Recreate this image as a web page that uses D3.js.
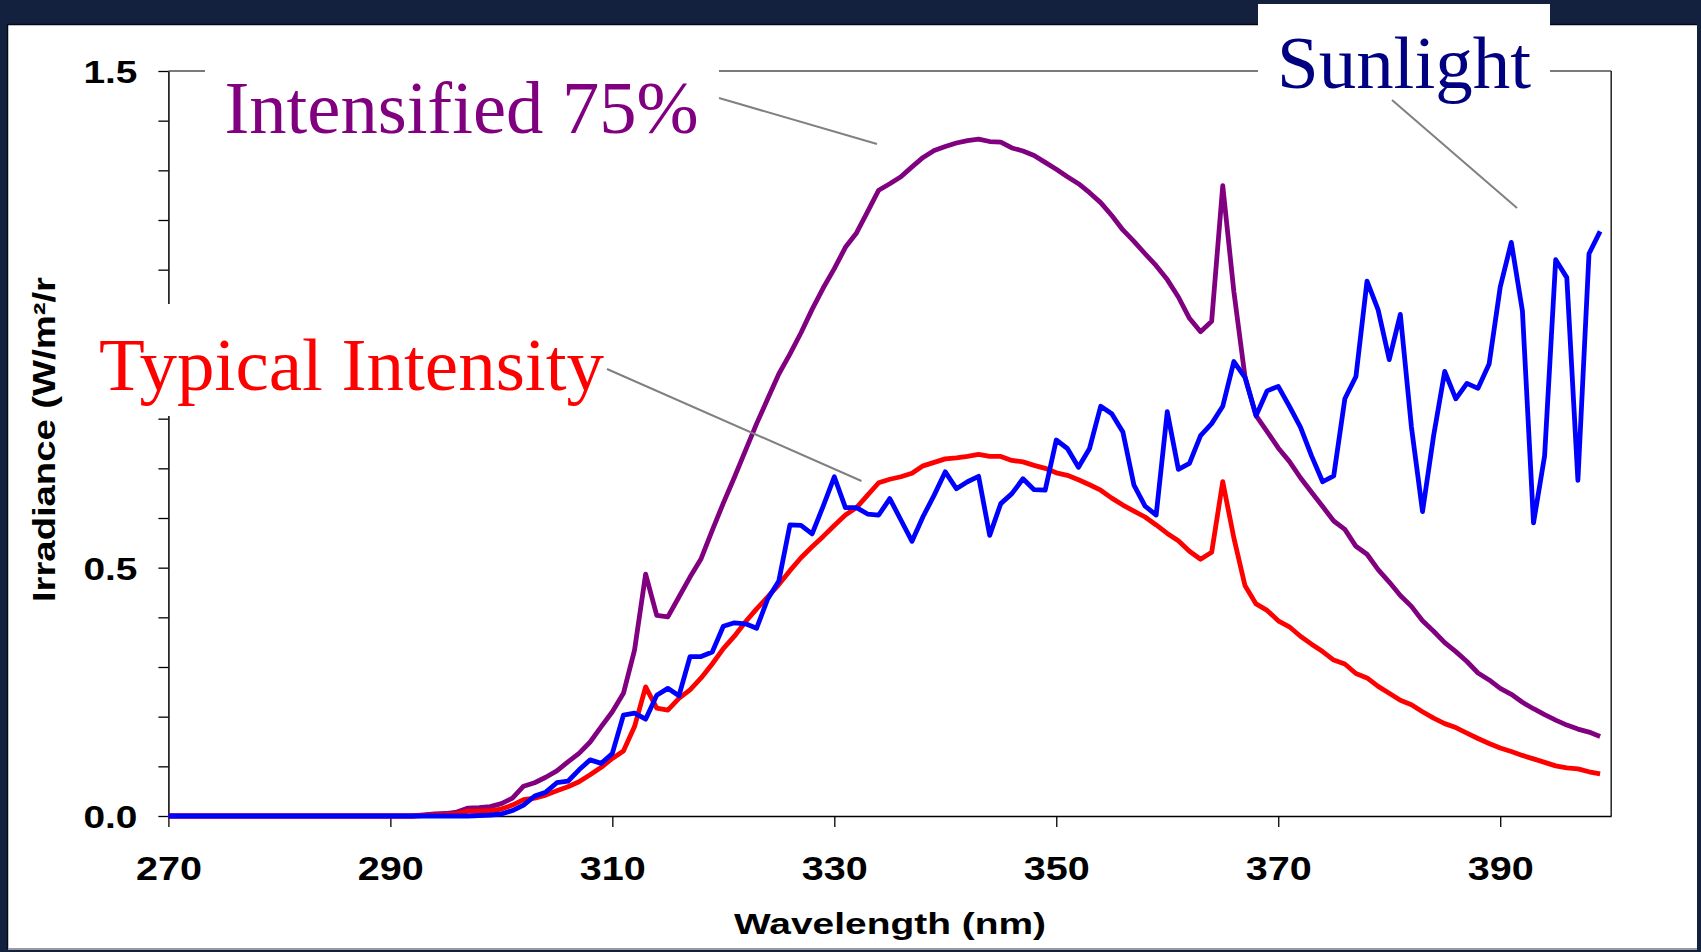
<!DOCTYPE html>
<html><head><meta charset="utf-8">
<script src="https://cdn.jsdelivr.net/npm/d3@7"></script>
<style>html,body{margin:0;padding:0;background:#13213f;overflow:hidden}</style>
</head><body>
<svg id="chart" width="1701" height="952"></svg>
<script>
// ---------- data ----------
const wavelengths = d3.range(270, 400); // 270 ... 399 nm, 1 nm steps
const intensified = [
  0,0,0,0,0,0,0,0,0,0, 0,0,0,0,0,0,0,0,0,0, 0,0,0,
  0.002,0.004,0.005,0.008,0.016,0.017,0.019,0.025,0.036,0.060,
  0.067,0.078,0.091,0.109,0.126,0.149,0.180,0.210,0.247,0.334,
  0.487,0.404,0.401,0.441,0.481,0.518,0.575,0.630,0.682,0.736,
  0.790,0.840,0.890,0.930,0.973,1.020,1.063,1.102,1.145,1.174,
  1.217,1.260,1.273,1.287,1.307,1.326,1.340,1.348,1.355,1.360,
  1.363,1.358,1.357,1.345,1.339,1.330,1.316,1.302,1.287,1.273,
  1.255,1.235,1.209,1.180,1.157,1.132,1.108,1.080,1.045,1.002,
  0.975,0.996,1.269,1.056,0.885,0.806,0.774,0.741,0.714,0.681,
  0.652,0.623,0.594,0.577,0.543,0.527,0.496,0.471,0.444,0.422,
  0.393,0.372,0.349,0.331,0.311,0.288,0.274,0.257,0.245,0.229,
  0.216,0.204,0.193,0.183,0.175,0.169,0.160
];
const typical = [
  0,0,0,0,0,0,0,0,0,0, 0,0,0,0,0,0,0,0,0,0, 0,0,0,
  0.001,0.002,0.003,0.005,0.010,0.010,0.011,0.014,0.022,0.033,
  0.036,0.042,0.051,0.059,0.069,0.083,0.098,0.116,0.131,0.180,
  0.260,0.217,0.213,0.237,0.254,0.278,0.306,0.337,0.362,0.391,
  0.417,0.441,0.466,0.494,0.520,0.542,0.563,0.585,0.606,0.621,
  0.646,0.671,0.678,0.683,0.690,0.705,0.712,0.719,0.721,0.724,
  0.728,0.724,0.724,0.716,0.713,0.706,0.700,0.691,0.686,0.677,
  0.667,0.656,0.640,0.626,0.614,0.602,0.586,0.569,0.554,0.533,
  0.517,0.531,0.673,0.560,0.464,0.427,0.414,0.393,0.381,0.362,
  0.346,0.331,0.314,0.306,0.287,0.278,0.261,0.247,0.233,0.224,
  0.210,0.197,0.186,0.178,0.167,0.156,0.146,0.137,0.130,0.122,
  0.115,0.108,0.101,0.097,0.095,0.089,0.085
];
const sunlight = [
  0,0,0,0,0,0,0,0,0,0, 0,0,0,0,0,0,0,0,0,0, 0,0,0,0,0,0,0,0,
  0.001,0.002,0.004,0.011,0.022,0.040,0.048,0.067,0.070,0.093,
  0.113,0.106,0.126,0.203,0.207,0.195,0.243,0.257,0.242,0.321,
  0.321,0.330,0.382,0.389,0.387,0.378,0.437,0.473,0.586,0.585,
  0.568,0.624,0.683,0.621,0.621,0.608,0.606,0.639,0.596,0.553,
  0.603,0.646,0.693,0.659,0.673,0.684,0.565,0.629,0.649,0.679,
  0.657,0.656,0.757,0.740,0.702,0.740,0.825,0.810,0.773,0.666,
  0.624,0.606,0.814,0.698,0.710,0.766,0.790,0.825,0.915,0.883,
  0.806,0.856,0.865,0.825,0.783,0.725,0.673,0.685,0.840,0.885,
  1.077,1.019,0.919,1.010,0.783,0.613,0.766,0.895,0.840,0.871,
  0.861,0.910,1.065,1.155,1.017,0.590,0.725,1.120,1.084,0.676,
  1.132,1.177
];
const xTickValues = [270, 290, 310, 330, 350, 370, 390];
const yTickValues = [0, 0.1, 0.2, 0.3, 0.4, 0.5, 0.6, 0.7, 0.8, 0.9, 1.0, 1.1, 1.2, 1.3, 1.4, 1.5];
const yLabelValues = [0, 0.5, 1.5]; // the 1.0 label sits under the "Typical Intensity" callout
const seriesNames = ["Intensified 75%", "Typical Intensity", "Sunlight"];
const seriesColors = ["#800080", "#ff0000", "#0000ff"];
const labelColors = ["#800080", "#ff0000", "#000080"];
const xTitle = "Wavelength (nm)";
const yTitle = "Irradiance (W/m²/r";

// ---------- layout ----------
const svg = d3.select("#chart");
const W = 1701, H = 952;
const x = d3.scaleLinear().domain([270, 400]).range([168.4, 1611.2]);
const y = d3.scaleLinear().domain([0, 1.5]).range([816, 71]);
const sansBold = "'Liberation Sans', Arial, sans-serif";
const serif = "'Liberation Serif', 'Times New Roman', serif";

svg.append("rect").attr("width", W).attr("height", H).attr("fill", "#13213f");
svg.append("rect").attr("x", 8).attr("y", 25).attr("width", 1689).attr("height", 923).attr("fill", "#ffffff");
svg.append("line").attr("x1", 7).attr("x2", 1697).attr("y1", 24.5).attr("y2", 24.5).attr("stroke", "#050a18").attr("stroke-width", 1.5);
svg.append("line").attr("x1", 7.5).attr("x2", 7.5).attr("y1", 24).attr("y2", 949).attr("stroke", "#050a18").attr("stroke-width", 1.5);
svg.append("line").attr("x1", 8).attr("x2", 1697).attr("y1", 949).attr("y2", 949).attr("stroke", "#9a9a9a").attr("stroke-width", 2);

// plot frame (top + right)
svg.append("line").attr("x1", x(270)).attr("x2", x(400)).attr("y1", y(1.5)).attr("y2", y(1.5))
  .attr("stroke", "#7a7a7a").attr("stroke-width", 2);
svg.append("line").attr("x1", x(400)).attr("x2", x(400)).attr("y1", y(1.5)).attr("y2", y(0))
  .attr("stroke", "#222").attr("stroke-width", 1.5);

// axes
const yAxis = d3.axisLeft(y).tickValues(yTickValues).tickSize(10).tickSizeOuter(0).tickPadding(21)
  .tickFormat(d => yLabelValues.some(v => Math.abs(v - d) < 1e-9) ? d3.format(".1f")(d) : "");
const gy = svg.append("g").attr("transform", `translate(${x(270)},0)`).call(yAxis);
gy.select(".domain").attr("stroke", "#000").attr("stroke-width", 1.5);
gy.selectAll(".tick line").attr("stroke", "#000").attr("stroke-width", 1.3);
gy.selectAll(".tick text").attr("font-family", sansBold).attr("font-weight", "bold").attr("font-size", 32)
  .attr("fill", "#000").attr("dy", "0.36em")
  .each(function(){ if (this.textContent) d3.select(this).attr("textLength", 54).attr("lengthAdjust", "spacingAndGlyphs"); });

const xAxis = d3.axisBottom(x).tickValues(xTickValues).tickSize(11).tickSizeOuter(0).tickFormat(d3.format("d"));
const gx = svg.append("g").attr("transform", `translate(0,${y(0)})`).call(xAxis);
gx.select(".domain").attr("stroke", "#000").attr("stroke-width", 1.5);
gx.selectAll(".tick line").attr("stroke", "#000").attr("stroke-width", 1.3);
gx.selectAll(".tick text").attr("font-family", sansBold).attr("font-weight", "bold").attr("font-size", 33)
  .attr("fill", "#000").attr("y", 63.5).attr("dy", 0)
  .attr("textLength", 66).attr("lengthAdjust", "spacingAndGlyphs");

// axis titles
svg.append("text").attr("x", 890).attr("y", 934).attr("text-anchor", "middle")
  .attr("font-family", sansBold).attr("font-weight", "bold").attr("font-size", 30)
  .attr("textLength", 312).attr("lengthAdjust", "spacingAndGlyphs").text(xTitle);
svg.append("text").attr("transform", "translate(54.5,602) rotate(-90)").attr("text-anchor", "start")
  .attr("font-family", sansBold).attr("font-weight", "bold").attr("font-size", 31)
  .attr("textLength", 325).attr("lengthAdjust", "spacingAndGlyphs").text(yTitle);

// series
const series = [intensified, typical, sunlight];
const line = d3.line().x((d, i) => x(wavelengths[i])).y(d => y(d));
series.forEach((vals, k) => {
  svg.append("path").datum(vals).attr("d", line).attr("fill", "none")
    .attr("stroke", seriesColors[k]).attr("stroke-width", 4.8)
    .attr("stroke-linejoin", "round").attr("stroke-linecap", "butt");
});

// label boxes
const boxes = [
  {x: 205, y: 38, w: 514, h: 112},
  {x: 86, y: 304, w: 521, h: 112},
  {x: 1258, y: 4, w: 292, h: 94}
];
boxes.forEach(b => svg.append("rect").attr("x", b.x).attr("y", b.y).attr("width", b.w).attr("height", b.h).attr("fill", "#fff"));

const labels = [
  {x: 224.5, y: 133, len: 474},
  {x: 99, y: 389.5, len: 505},
  {x: 1277, y: 88, len: 254}
];
labels.forEach((l, k) => {
  svg.append("text").attr("x", l.x).attr("y", l.y).attr("font-family", serif).attr("font-size", 75)
    .attr("fill", labelColors[k]).attr("textLength", l.len).attr("lengthAdjust", "spacingAndGlyphs")
    .text(seriesNames[k]);
});

// leader lines
const leaders = [
  [[719, 98], [877, 144]],
  [[607, 369], [861.5, 481]],
  [[1392, 100], [1517, 208]]
];
leaders.forEach(p => svg.append("line").attr("x1", p[0][0]).attr("y1", p[0][1]).attr("x2", p[1][0]).attr("y2", p[1][1])
  .attr("stroke", "#808080").attr("stroke-width", 2));
</script>
</body></html>
